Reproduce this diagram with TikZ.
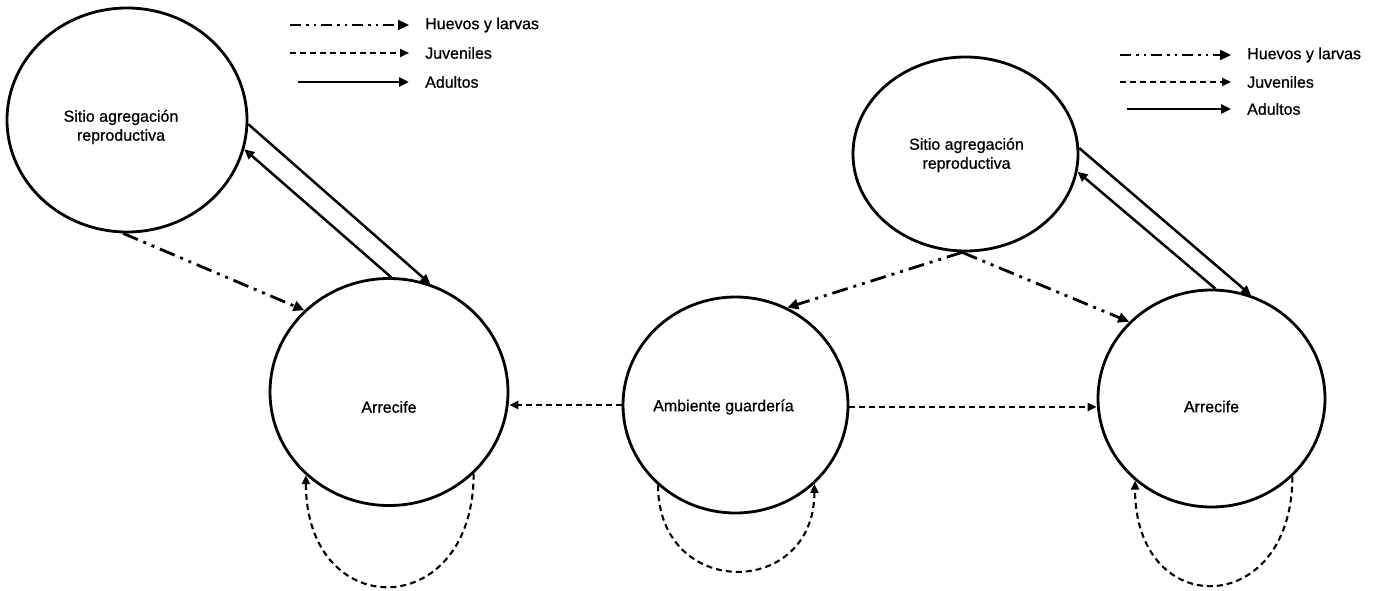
\documentclass[tikz,border=0pt]{standalone}
\usepackage{fontspec}
\setmainfont{Liberation Sans}
\newfontfamily\zonafont{Liberation Sans}[FakeBold=0.7]
\usetikzlibrary{shapes.geometric,arrows.meta}
\tikzset{
  zona/.style={ellipse, draw=black, line width=2.8pt, inner sep=0pt},
  zonatxt/.style={align=center, inner sep=0pt, font=\zonafont\fontsize{16}{19}\selectfont},
  huevos/.style={draw=black, line width=2.8pt, dash pattern=on 16pt off 6pt on 3pt off 6pt on 3pt off 6pt, -{Triangle[length=11pt,width=10pt]}},
  juv/.style={draw=black, line width=2.1pt, dash pattern=on 6pt off 4pt, -{Triangle[length=9pt,width=8pt]}},
  adulto/.style={draw=black, line width=2.5pt, -{Triangle[length=10pt,width=9pt]}},
  leyhuevos/.style={huevos, line width=2.3pt, dash pattern=on 11pt off 5pt on 2.5pt off 5pt on 2.5pt off 5pt, shorten >=16pt},
  leyjuv/.style={juv, shorten >=16pt},
  leyadulto/.style={adulto, shorten >=16pt},
  lab/.style={font=\zonafont\fontsize{16}{19}\selectfont, inner sep=0pt, anchor=west},
}
\begin{document}
\begin{tikzpicture}[x=1pt,y=-1pt]
  \useasboundingbox (0,0) rectangle (1381,591);

  % zonas, lado izquierdo
  \node[zona, minimum width=240pt, minimum height=224pt,
        label={[zonatxt,xshift=-6pt,yshift=-7pt]center:Sitio agregación\\reproductiva}] (sitioL) at (127,120) {};
  \node[zona, minimum width=238pt, minimum height=227pt,
        label={[zonatxt,yshift=-15pt]center:Arrecife}] (arrL) at (389,392) {};

  % zonas, lado derecho
  \node[zona, minimum width=225pt, minimum height=216pt,
        label={[zonatxt,xshift=-12pt,yshift=-2pt]center:Ambiente guardería}] (amb) at (735.5,405) {};
  \node[zona, minimum width=225pt, minimum height=194pt,
        label={[zonatxt,xshift=1pt,yshift=-1pt]center:Sitio agregación\\reproductiva}] (sitioR) at (965.5,154) {};
  \node[zona, minimum width=227pt, minimum height=217pt,
        label={[zonatxt,yshift=-8pt]center:Arrecife}] (arrR) at (1211.5,398.5) {};

  % conexiones izquierda
  \draw[huevos] (sitioL.-92) -- (arrL.136);
  \draw[adulto] (sitioL.-2) -- (arrL.69);
  \draw[adulto] (arrL.89) -- (sitioL.-14);
  \draw[juv] (arrL.-44) .. controls +(0,149) and +(0,149) .. (arrL.-135);

  % conexiones derecha
  \draw[juv] (amb.west) -- (arrL.east |- amb.west);
  \draw[juv] (amb.-1) -- (arrR.west |- amb.-1);
  \draw[huevos] (sitioR.-92) -- (amb.62);
  \draw[huevos] (sitioR.-92) -- (arrR.137);
  \draw[adulto] (sitioR.3) -- (arrR.69);
  \draw[adulto] (arrR.88) -- (sitioR.-9);
  \draw[juv] (amb.-134) .. controls +(0,115) and +(0,115) .. (amb.-45);
  \draw[juv] (arrR.-44) .. controls +(0,142) and +(0,142) .. (arrR.-133);

  % leyenda izquierda
  \coordinate (lgL1) at (290,25);
  \coordinate (lgL2) at (290,53);
  \coordinate (lgL3) at (298,82);
  \node[lab] (txtL1) at (425,25) {Huevos y larvas};
  \node[lab] (txtL2) at (425,53) {Juveniles};
  \node[lab] (txtL3) at (425,82) {Adultos};
  \draw[leyhuevos] (lgL1) -- (txtL1.west);
  \draw[leyjuv] (lgL2) -- (txtL2.west);
  \draw[leyadulto] (lgL3) -- (txtL3.west);

  % leyenda derecha
  \coordinate (lgR1) at (1120,55);
  \coordinate (lgR2) at (1120,82);
  \coordinate (lgR3) at (1127,109);
  \node[lab] (txtR1) at (1247,55) {Huevos y larvas};
  \node[lab] (txtR2) at (1247,82) {Juveniles};
  \node[lab] (txtR3) at (1247,109) {Adultos};
  \draw[leyhuevos] (lgR1) -- (txtR1.west);
  \draw[leyjuv] (lgR2) -- (txtR2.west);
  \draw[leyadulto] (lgR3) -- (txtR3.west);
\end{tikzpicture}
\end{document}
